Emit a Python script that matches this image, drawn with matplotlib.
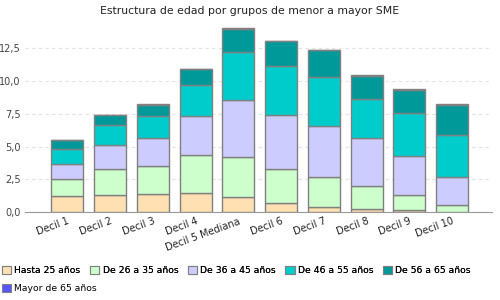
import matplotlib
matplotlib.use("Agg")
import matplotlib.pyplot as plt
from matplotlib.patches import Patch
import numpy as np

categories = ["Decil 1", "Decil 2", "Decil 3", "Decil 4", "Decil 5 Mediana",
              "Decil 6", "Decil 7", "Decil 8", "Decil 9", "Decil 10"]
series_names = ["Hasta 25 años", "De 26 a 35 años", "De 36 a 45 años",
                "De 46 a 55 años", "De 56 a 65 años", "Mayor de 65 años"]
hasta25 = [1.22, 1.32, 1.39, 1.47, 1.14, 0.71, 0.38, 0.23, 0.13, 0.02]
de26_35 = [1.29, 1.96, 2.14, 2.87, 3.07, 2.57, 2.31, 1.77, 1.16, 0.53]
de36_45 = [1.19, 1.83, 2.11, 2.98, 4.33, 4.11, 3.86, 3.64, 2.98, 2.12]
de46_55 = [1.10, 1.52, 1.68, 2.36, 3.66, 3.74, 3.74, 2.97, 3.28, 3.20]
de56_65 = [0.69, 0.81, 0.86, 1.22, 1.77, 1.95, 2.10, 1.78, 1.77, 2.31]
mayor65 = [0.04, 0.0, 0.04, 0.0, 0.04, 0.0, 0.0, 0.04, 0.04, 0.04]
yticks = [0.0, 2.5, 5.0, 7.5, 10.0, 12.5]

series = [hasta25, de26_35, de36_45, de46_55, de56_65, mayor65]
colors = ["#FFE0B2", "#CCFFCC", "#CCCCFF", "#00CCCC", "#009999", "#5555FF"]

fig = plt.figure(figsize=(5, 3), dpi=100)
ax = fig.add_axes([0.05, 0.293, 0.934, 0.634])

x = np.arange(len(categories))
bottom = np.zeros(len(categories))
for vals, col, name in zip(series, colors, series_names):
    ax.bar(x, vals, 0.75, bottom=bottom, color=col, edgecolor="#808080",
           linewidth=1.0, label=name, zorder=3)
    bottom += np.array(vals)

ax.set_xlim(-0.99, 9.93)
ax.set_ylim(0, 14.5)
ax.set_yticks(yticks)
ax.set_yticklabels([f"{v:.1f}".replace(".", ",") for v in yticks],
                   fontsize=7, color="#444444")
ax.yaxis.grid(True, linestyle=(0, (3, 3)), color="#E2E2E2", linewidth=0.8, zorder=0)
for s in ["top", "right", "left"]:
    ax.spines[s].set_visible(False)
ax.spines["bottom"].set_color("#999999")
ax.tick_params(axis="y", length=0, pad=3)
ax.tick_params(axis="x", length=0, pad=3)
ax.set_xticks(x)
ax.set_xticklabels(categories, rotation=20, ha="right", rotation_mode="anchor",
                   fontsize=7, color="#222222")

fig.text(0.5, 0.965, "Estructura de edad por grupos de menor a mayor SME",
         ha="center", va="center", fontsize=7.8, color="#222222")

handles = [Patch(facecolor=c, edgecolor="#808080", linewidth=0.8) for c in colors]
leg1 = fig.legend(handles[:5], series_names[:5], loc="upper left",
                  bbox_to_anchor=(0.0, 0.12), ncol=5, frameon=False,
                  fontsize=6.7, handlelength=1.0, handleheight=1.0,
                  handletextpad=0.35, columnspacing=1.0, borderaxespad=0, borderpad=0.2)
fig.add_artist(leg1)
fig.legend(handles[5:], series_names[5:], loc="upper left",
           bbox_to_anchor=(0.0, 0.06), ncol=1, frameon=False,
           fontsize=6.7, handlelength=1.0, handleheight=1.0,
           handletextpad=0.35, borderaxespad=0, borderpad=0.2)

fig.savefig("out.png", dpi=100)
